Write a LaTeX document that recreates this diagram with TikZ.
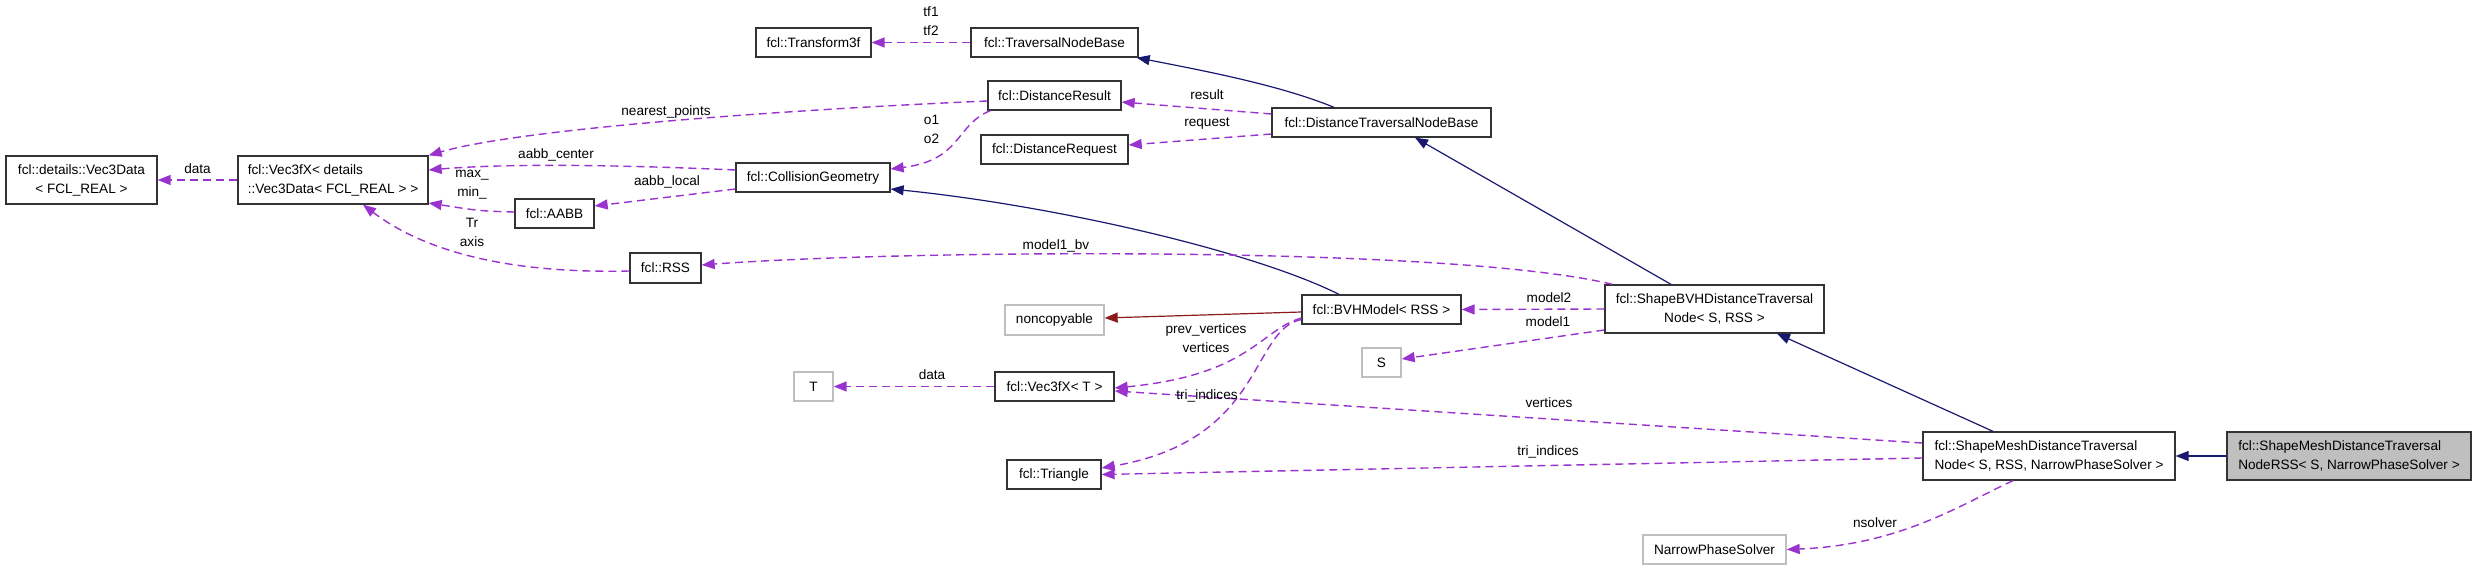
\documentclass[tikz,border=0pt]{standalone}
\usepackage{fontspec}
\setmainfont{Liberation Sans}
\usepackage{tikz}
\usetikzlibrary{arrows.meta, positioning}
\definecolor{usecol}{HTML}{9A32CD}
\definecolor{inhcol}{HTML}{191970}
\definecolor{privcol}{HTML}{8B1A1A}
\definecolor{extcol}{HTML}{BFBFBF}
\definecolor{curcol}{HTML}{BFBFBF}

\tikzset{
    cls/.style={draw=black!80, line width=1.3pt, fill=white, inner sep=0pt,
        minimum height=29pt, font=\fontsize{13.6}{19}\selectfont},
    ext/.style={cls, draw=extcol},
    cur/.style={cls, fill=curcol},
    lbl/.style={inner sep=0pt, align=center, yshift=1.5pt, font=\fontsize{13.6}{19}\selectfont},
    use/.style={draw=usecol, line width=1.4pt, dash pattern=on 8pt off 5pt,
        -{Triangle[length=13pt,width=10pt]}},
    inh/.style={draw=inhcol, line width=1.2pt, -{Triangle[length=13pt,width=10pt]}},
    priv/.style={draw=privcol, line width=1.2pt, -{Triangle[length=13pt,width=10pt]}}
}

\begin{document}
\begin{tikzpicture}[x=1pt, y=-1pt]
    \useasboundingbox (0,0) rectangle (2477,569);

        % Classes
        \node[cls, minimum width=151pt, minimum height=48pt, align=center] (vecdata) at (81.5,180)
            {fcl::details::Vec3Data\\< FCL\_REAL >};
        \node[cls, minimum width=190pt, minimum height=48pt, align=left] (vecfxd) at (333,180)
            {fcl::Vec3fX< details\\::Vec3Data< FCL\_REAL > >};
        \node[cls, minimum width=115pt] (transform) at (813.5,42.5) {fcl::Transform3f};
        \node[cls, minimum width=154pt] (collgeom) at (813,177.5) {fcl::CollisionGeometry};
        \node[cls, minimum width=79pt] (aabb) at (554.5,213.5) {fcl::AABB};
        \node[cls, minimum width=71pt, minimum height=30pt] (rss) at (665.5,268) {fcl::RSS};
        \node[ext, minimum width=39pt] (tnode) at (813.5,386.5) {T};

        \node[cls, minimum width=167pt] (travbase) at (1054.5,42.5) {fcl::TraversalNodeBase};
        \node[cls, minimum width=133pt] (distres) at (1054.5,95.5) {fcl::DistanceResult};
        \node[cls, minimum width=147pt] (distreq) at (1054.5,149.5) {fcl::DistanceRequest};
        \node[ext, minimum width=99pt, minimum height=30pt] (noncopy) at (1054.5,320) {noncopyable};
        \node[cls, minimum width=119pt] (vecfxt) at (1054.5,386.5) {fcl::Vec3fX< T >};
        \node[cls, minimum width=94pt] (triangle) at (1054,474.5) {fcl::Triangle};

        \node[cls, minimum width=219pt] (disttrav) at (1381.5,122.5) {fcl::DistanceTraversalNodeBase};
        \node[cls, minimum width=159pt] (bvh) at (1381.5,309.5) {fcl::BVHModel< RSS >};
        \node[ext, minimum width=39pt] (snode) at (1381.5,362.5) {S};

        \node[cls, minimum width=219pt, minimum height=48pt, align=center] (shapebvh) at (1714.5,309)
            {fcl::ShapeBVHDistanceTraversal\\Node< S, RSS >};
        \node[ext, minimum width=143pt] (narrow) at (1714.5,549.5) {NarrowPhaseSolver};

        \node[cls, minimum width=252pt, minimum height=48pt, align=left] (shapemesh) at (2049,456)
            {fcl::ShapeMeshDistanceTraversal\\Node< S, RSS, NarrowPhaseSolver >};
        \node[cur, minimum width=244pt, minimum height=48pt, align=left] (meshrss) at (2349,456)
            {fcl::ShapeMeshDistanceTraversal\\NodeRSS< S, NarrowPhaseSolver >};

        % Inheritance
        \draw[inh] (meshrss.west) -- (shapemesh.east);
        \draw[inh] ([xshift=-56pt]shapemesh.north) -- ([xshift=62.5pt]shapebvh.south);
        \draw[inh] ([xshift=-43.5pt]shapebvh.north) -- ([xshift=33.5pt]disttrav.south);
        \draw[inh] ([xshift=-47.5pt]disttrav.north) .. controls (1280,85) and (1200,70) .. ([xshift=-2pt]travbase.south east);
        \draw[inh] ([xshift=-42.5pt]bvh.north) .. controls (1250,250) and (1050,205) .. ([yshift=-11.5pt]collgeom.east);
        \draw[priv] ([yshift=-2.5pt]bvh.west) -- ([yshift=2pt]noncopy.east);

        % Members
        \draw[use] (vecfxd.west) -- (vecdata.east) node[lbl, pos=.5, above=4pt] (ldata) {data};
        \draw[use] ([yshift=-5.5pt]distres.west) .. controls (780,110) and (520,129) .. (vecfxd.north east);
        \draw[use] ([yshift=7.5pt]collgeom.west) .. controls (600,164) and (500,164) .. ([yshift=10pt]vecfxd.east);
        \draw[use] ([yshift=1.5pt]aabb.west) .. controls (480,211) .. ([yshift=-23pt]vecfxd.east);
        \draw[use] ([yshift=-3pt]rss.west) .. controls (500,274) and (420,248) .. ([xshift=30pt]vecfxd.south);
        \draw[use] ([yshift=-11.5pt]collgeom.west) -- ([yshift=7.5pt]aabb.east);
        \draw[use] (travbase.west) -- (transform.east);
        \draw[use] ([xshift=3pt]distres.south west) .. controls (955,125) and (962,160) .. ([yshift=8.5pt]collgeom.east);
        \draw[use] ([yshift=8.5pt]disttrav.west) -- ([yshift=-6.5pt]distres.east);
        \draw[use] ([yshift=-11.5pt]disttrav.west) -- ([yshift=4.5pt]distreq.east);
        \draw[use] ([xshift=8pt]shapebvh.north west) .. controls (1450,245) and (900,250) .. ([yshift=3pt]rss.east);
        \draw[use] (shapebvh.west) -- (bvh.east);
        \draw[use] ([yshift=-21pt]shapebvh.west) -- ([yshift=3.5pt]snode.east);
        \draw[use] ([yshift=-8.5pt]bvh.west) .. controls (1260,330) and (1250,375) .. ([yshift=-1.5pt]vecfxt.east);
        \draw[use] ([yshift=-10pt]bvh.west) .. controls (1250,330) and (1265,440) .. ([yshift=6.5pt]triangle.east);
        \draw[use] (vecfxt.west) -- (tnode.east);
        \draw[use] ([yshift=13pt]shapemesh.west) -- ([yshift=-4.5pt]vecfxt.east);
        \draw[use] ([yshift=-2pt]shapemesh.west) -- (triangle.east);
        \draw[use] ([xshift=-36pt]shapemesh.south) .. controls (1960,505) and (1900,545) .. (narrow.east);

        % Labels
        \node[lbl] (lnearest) at (666,113) {nearest\_points};
        \node[lbl] (lcenter) at (556,156) {aabb\_center};
        \node[lbl] (lminmax) at (472,186.5) {max\_\\min\_};
        \node[lbl] (ltr) at (472,233.5) {Tr\\axis};
        \node[lbl] (llocal) at (667,183) {aabb\_local};
        \node[lbl] (ltf) at (931,22.5) {tf1\\tf2};
        \node[lbl] (lo) at (931.5,130.5) {o1\\o2};
        \node[lbl] (lresult) at (1207,96) {result};
        \node[lbl] (lrequest) at (1207,125) {request};
        \node[lbl] (lbv) at (1056,247) {model1\_bv};
        \node[lbl] (lmodel2) at (1549,299) {model2};
        \node[lbl] (lmodel1) at (1548,323) {model1};
        \node[lbl] (lprev) at (1206,340) {prev\_vertices\\vertices};
        \node[lbl] (ltri) at (1207,397) {tri\_indices};
        \node[lbl] (ldata2) at (932,376) {data};
        \node[lbl] (lvert) at (1549,404) {vertices};
        \node[lbl] (ltri2) at (1548,453) {tri\_indices};
        \node[lbl] (lsolver) at (1875,524) {nsolver};
    \end{tikzpicture}
\end{document}
